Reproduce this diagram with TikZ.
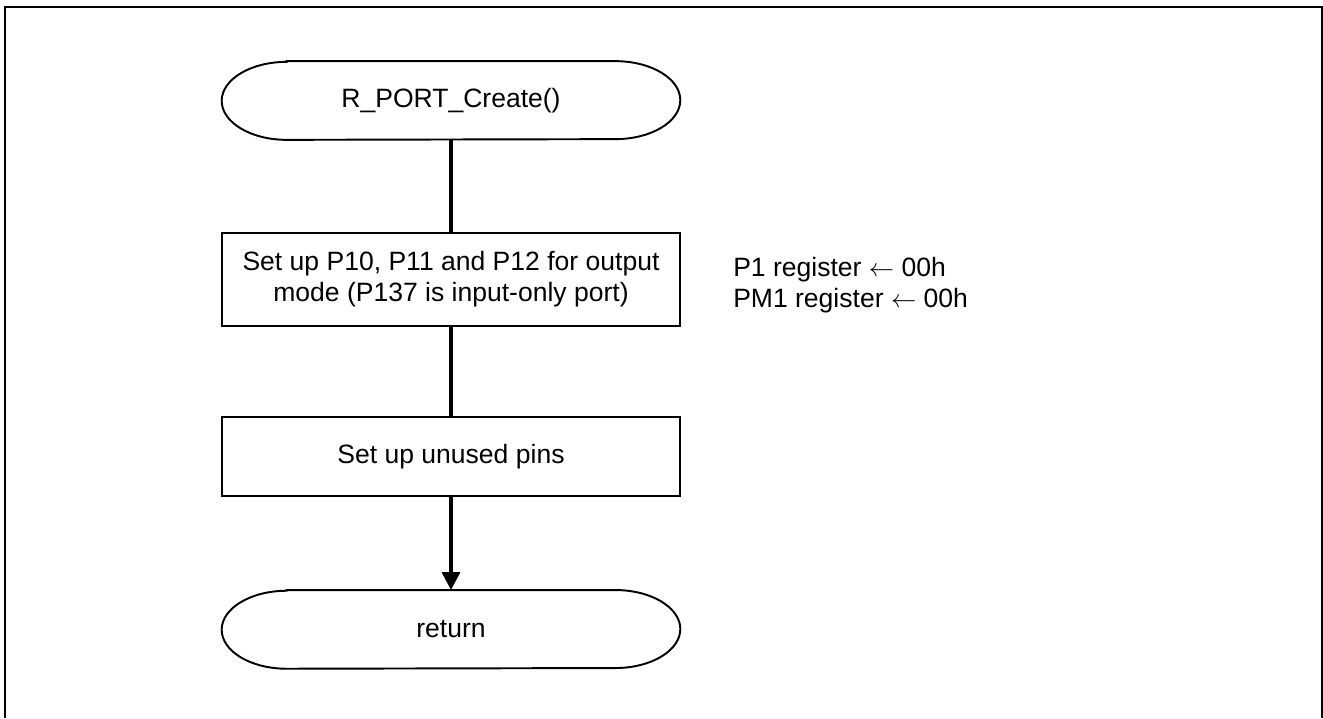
\documentclass[tikz,border=0pt]{standalone}
\usepackage{fontspec}
\setmainfont{Liberation Sans}
\usetikzlibrary{arrows.meta,positioning}

\tikzset{
  process/.style={draw,line width=1.1pt,minimum width=9.16cm,align=center,inner sep=0pt},
  terminal/.style={minimum width=9.16cm,minimum height=1.56cm,inner sep=0pt},
  flow/.style={line width=1.9pt}
}
% outline of a start/end node: flat top and bottom, half ellipses at the ends
\newcommand\termoutline[1]{%
  \draw[line width=1.1pt] ([xshift=1.3cm]#1.north west) -- ([xshift=-1.3cm]#1.north east)
    arc[start angle=90,end angle=-90,x radius=1.3cm,y radius=0.78cm]
    -- ([xshift=1.3cm]#1.south west)
    arc[start angle=270,end angle=90,x radius=1.3cm,y radius=0.78cm] -- cycle;}

\begin{document}
\begin{tikzpicture}[x=0.02cm,y=0.02cm,font=\fontsize{15.1}{17.5}\selectfont]
    \useasboundingbox (0,0) rectangle (1323,718);
    \draw[line width=1.1pt] (5,0) -- (5,711) -- (1322,711) -- (1322,0);

    \node[terminal] (start) at (451,617.5) {R\_PORT\_Create()};
    \node[process,minimum height=1.86cm] (setports) [below of=start,node distance=3.58cm]
        {Set up P10, P11 and P12 for output\\mode (P137 is input-only port)};
    \node[process,minimum height=1.58cm] (unused) [below of=setports,node distance=3.54cm]
        {Set up unused pins};
    \node[terminal] (ret) [below of=unused,node distance=3.46cm] {return};

    \node[align=left,inner sep=0pt,anchor=west,yshift=-0.12cm] (note) [right=1.04cm of setports]
        {P1 register $\leftarrow$ 00h\\PM1 register $\leftarrow$ 00h};

    \termoutline{start}
    \termoutline{ret}

    \draw[flow] (start) -- (setports);
    \draw[flow] (setports) -- (unused);
    \draw[flow,-{Triangle[width=0.36cm,length=0.36cm]}] (unused) -- (ret);
\end{tikzpicture}
\end{document}
